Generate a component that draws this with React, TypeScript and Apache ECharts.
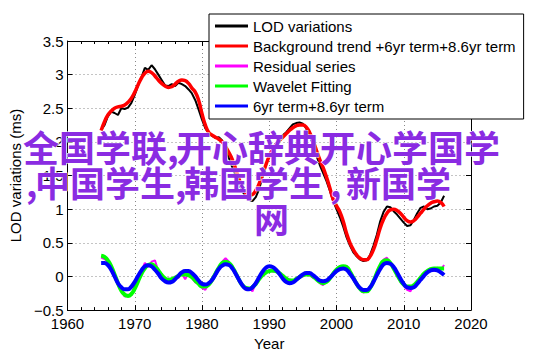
import React, { useEffect, useRef } from "react";
import * as echarts from "echarts";

// Sampling grid: half-year steps starting at 1965
const YEAR_START = 1965;
const YEAR_STEP = 0.5;

const X_MIN = 1960;
const X_MAX = 2020;
const Y_MIN = -0.5;
const Y_MAX = 3.5;

const SERIES_NAMES = [
  "LOD variations",
  "Background trend +6yr term+8.6yr term",
  "Residual series",
  "Wavelet Fitting",
  "6yr term+8.6yr term",
];

// LOD variations (ms), 1965 .. 2016 every half year
const LOD = [
  2.18, 2.25, 2.38, 2.45, 2.43, 2.40, 2.50, 2.49, 2.51, 2.58,
  2.70, 2.84, 2.96, 3.10, 3.07, 3.14, 3.08, 3.00, 2.92, 2.84,
  2.83, 2.86, 2.83, 2.88, 2.86, 2.83, 2.78, 2.72, 2.62, 2.48,
  2.33, 2.20, 2.13, 2.09, 2.06, 2.07, 2.02, 1.90, 1.76, 1.62,
  1.50, 1.38, 1.27, 1.18, 1.14, 1.12, 1.18, 1.30, 1.48, 1.66,
  1.80, 1.90, 1.98, 2.03, 2.10, 2.14, 2.20, 2.26, 2.28, 2.29,
  2.27, 2.20, 2.10, 1.96, 1.80, 1.66, 1.54, 1.42, 1.28, 1.12,
  1.00, 0.88, 0.74, 0.58, 0.46, 0.36, 0.30, 0.25, 0.23, 0.24,
  0.32, 0.46, 0.62, 0.82, 0.96, 1.04, 1.03, 0.97, 0.92, 0.86,
  0.80, 0.75, 0.76, 0.84, 0.94, 1.02, 1.04, 1.00, 1.01, 1.04,
  1.05, 1.10, 1.20,
];

// Background trend + 6yr term + 8.6yr term
const TREND = [
  2.17, 2.30, 2.40, 2.46, 2.50, 2.52, 2.53, 2.55, 2.59, 2.65,
  2.74, 2.85, 2.95, 3.02, 3.05, 3.03, 2.98, 2.92, 2.87, 2.83,
  2.81, 2.82, 2.86, 2.90, 2.92, 2.91, 2.87, 2.80, 2.74, 2.62,
  2.42, 2.25, 2.14, 2.10, 2.07, 2.04, 2.00, 1.93, 1.84, 1.74,
  1.60, 1.45, 1.32, 1.24, 1.21, 1.22, 1.28, 1.38, 1.52, 1.66,
  1.79, 1.89, 1.96, 2.02, 2.07, 2.12, 2.17, 2.21, 2.24, 2.25,
  2.25, 2.22, 2.14, 2.02, 1.88, 1.74, 1.62, 1.48, 1.32, 1.15,
  1.05, 0.96, 0.82, 0.64, 0.50, 0.40, 0.32, 0.27, 0.25, 0.25,
  0.30, 0.40, 0.55, 0.72, 0.85, 0.94, 0.99, 1.00, 0.98, 0.94,
  0.88, 0.83, 0.81, 0.83, 0.88, 0.94, 1.00, 1.05, 1.09, 1.11,
  1.12, 1.10, 1.04,
];

// Residual series
const RESIDUAL = [
  0.28, 0.26, 0.22, 0.12, 0.05, -0.13, -0.20, -0.30, -0.27, -0.28,
  -0.15, -0.08, 0.08, 0.20, 0.14, 0.22, 0.24, 0.08, 0.04, -0.06,
  -0.03, -0.06, 0.00, -0.02, 0.04, -0.04, 0.05, -0.02, -0.09, -0.10,
  -0.17, -0.20, -0.10, -0.07, 0.06, 0.12, 0.22, 0.27, 0.22, 0.12,
  0.06, -0.08, -0.12, -0.20, -0.17, -0.22, -0.10, -0.03, 0.04, 0.05,
  0.10, 0.07, 0.09, 0.03, 0.02, -0.05, -0.04, -0.08, -0.03, 0.01,
  0.00, 0.04, 0.02, -0.02, -0.03, -0.10, -0.13, -0.07, -0.04, 0.06,
  0.09, 0.15, 0.13, 0.16, 0.05, -0.01, -0.13, -0.17, -0.24, -0.21,
  -0.15, -0.09, 0.07, 0.15, 0.25, 0.28, 0.18, 0.14, 0.01, -0.08,
  -0.14, -0.20, -0.22, -0.12, -0.10, 0.00, 0.03, 0.06, 0.10, 0.08,
  0.13, 0.10, 0.17,
];

// Wavelet Fitting
const WAVELET = [
  0.31, 0.29, 0.24, 0.15, 0.03, -0.10, -0.21, -0.27, -0.29, -0.26,
  -0.18, -0.07, 0.04, 0.12, 0.17, 0.18, 0.15, 0.09, 0.02, -0.03,
  -0.05, -0.04, -0.02, 0.01, 0.03, 0.03, 0.02, -0.01, -0.06, -0.11,
  -0.15, -0.15, -0.12, -0.05, 0.04, 0.13, 0.20, 0.22, 0.20, 0.14,
  0.05, -0.05, -0.13, -0.17, -0.18, -0.16, -0.11, -0.04, 0.02, 0.06,
  0.08, 0.09, 0.08, 0.05, 0.01, -0.03, -0.06, -0.06, -0.04, -0.01,
  0.02, 0.03, 0.03, 0.00, -0.04, -0.08, -0.10, -0.08, -0.03, 0.04,
  0.10, 0.14, 0.15, 0.14, 0.07, -0.02, -0.11, -0.18, -0.22, -0.22,
  -0.17, -0.07, 0.05, 0.16, 0.23, 0.24, 0.20, 0.12, 0.03, -0.06,
  -0.12, -0.15, -0.15, -0.13, -0.08, -0.02, 0.04, 0.08, 0.11, 0.12,
  0.12, 0.12, 0.12,
];

// 6yr term + 8.6yr term
const PERIODIC = [
  0.20, 0.20, 0.17, 0.10, 0.00, -0.10, -0.16, -0.19, -0.19, -0.15,
  -0.08, 0.01, 0.09, 0.15, 0.165, 0.15, 0.10, 0.04, -0.03, -0.07,
  -0.09, -0.08, -0.04, 0.01, 0.06, 0.08, 0.08, 0.05, 0.00, -0.06,
  -0.11, -0.12, -0.10, -0.05, 0.03, 0.11, 0.16, 0.18, 0.17, 0.12,
  0.04, -0.05, -0.13, -0.18, -0.19, -0.16, -0.10, -0.01, 0.07, 0.13,
  0.15, 0.14, 0.10, 0.04, -0.03, -0.08, -0.10, -0.09, -0.05, -0.01,
  0.03, 0.05, 0.05, 0.02, -0.02, -0.06, -0.07, -0.06, -0.02, 0.03,
  0.08, 0.11, 0.12, 0.10, 0.04, -0.03, -0.11, -0.17, -0.20, -0.20,
  -0.16, -0.08, 0.02, 0.11, 0.18, 0.20, 0.19, 0.14, 0.06, -0.03,
  -0.11, -0.16, -0.17, -0.16, -0.11, -0.05, 0.01, 0.06, 0.09, 0.10,
  0.09, 0.06, 0.02,
];

const WATERMARK_SEGMENTS = [
  { text: "全国学联,", line: 0, left: 23, size: 36 },
  { text: "开心辞典开心学国学", line: 0, left: 176, size: 36 },
  { text: ",", line: 1, left: 26, size: 35 },
  { text: "中国学生,", line: 1, left: 35, size: 35 },
  { text: "韩国学生", line: 1, left: 184, size: 35 },
  { text: ",", line: 1, left: 330, size: 35 },
  { text: "新国学", line: 1, left: 346, size: 35 },
  { text: "网", line: 2, left: 254, size: 35 },
];
const WATERMARK_LINE_Y = [146, 181.5, 217.5];

const LATIN = "'Liberation Sans', Arial, Helvetica, sans-serif";
const CJK = "'Noto Sans CJK SC', sans-serif";

function pairs(values: number[]) {
  return values.map((v, i) => [YEAR_START + i * YEAR_STEP, v]);
}

export default function App() {
  const ref = useRef<HTMLDivElement>(null);

  useEffect(() => {
    if (!ref.current) return;
    const chart = echarts.init(ref.current, undefined, { renderer: "svg" });

    const axisLine = { show: true, onZero: false, lineStyle: { color: "#000", width: 1 } };
    const tick = { show: true, inside: true, length: 5, lineStyle: { color: "#000", width: 1 } };
    const grid = { show: true, lineStyle: { color: "#888", width: 1, type: [1, 3] as any } };
    const minus = (v: number) => String(v).replace("-", "\u2212");
    const plain = (v: number) => String(v);

    const colors = ["#000000", "#ff0000", "#ff00ff", "#00ff00", "#0000ff"];
    const widths = [2, 3.5, 2, 4, 4];
    const datasets = [LOD, TREND, RESIDUAL, WAVELET, PERIODIC];
    const smooth = [false, true, false, true, true];

    chart.setOption({
      animation: false,
      backgroundColor: "#fff",
      grid: { left: 55, right: 71, top: 41, bottom: 42, containLabel: false },
      xAxis: [
        {
          type: "value", min: X_MIN, max: X_MAX, interval: 10, position: "bottom",
          axisLine, axisTick: tick,
          minorTick: { show: true, splitNumber: 5, length: 3, lineStyle: { color: "#000" } },
          axisLabel: { fontSize: 15, color: "#000", margin: 6, fontFamily: LATIN, formatter: plain },
          splitLine: grid,
          name: "Year", nameLocation: "middle", nameGap: 21,
          nameTextStyle: { fontSize: 15, color: "#000", fontFamily: LATIN },
        },
        {
          type: "value", min: X_MIN, max: X_MAX, interval: 10, position: "top",
          axisLine, axisTick: tick,
          minorTick: { show: true, splitNumber: 5, length: 3, lineStyle: { color: "#000" } },
          axisLabel: { show: false }, splitLine: { show: false },
        },
      ],
      yAxis: [
        {
          type: "value", min: Y_MIN, max: Y_MAX, interval: 0.5, position: "left",
          axisLine, axisTick: tick,
          axisLabel: { fontSize: 15, color: "#000", margin: 4, fontFamily: LATIN, formatter: minus },
          splitLine: grid,
          name: "LOD variations (ms)", nameLocation: "middle", nameGap: 28,
          nameTextStyle: { fontSize: 15, color: "#000", fontFamily: LATIN },
        },
        {
          type: "value", min: Y_MIN, max: Y_MAX, interval: 0.5, position: "right",
          axisLine, axisTick: tick,
          axisLabel: { show: false }, splitLine: { show: false },
        },
      ],
      legend: {
        orient: "vertical", left: 209, top: 14, padding: [2, 8, 3, 6],
        itemGap: 0, itemWidth: 33, itemHeight: 3, icon: "rect",
        backgroundColor: "#fff", borderColor: "#000", borderWidth: 1,
        selectedMode: false, z: 10,
        textStyle: { fontSize: 15, lineHeight: 20, color: "#000", fontFamily: LATIN },
        data: SERIES_NAMES,
      },
      series: datasets.map((d, i) => ({
        name: SERIES_NAMES[i],
        type: "line",
        data: pairs(d),
        showSymbol: false,
        symbol: "none",
        smooth: smooth[i] ? 0.5 : false,
        color: colors[i],
        lineStyle: { color: colors[i], width: widths[i] },
        z: 2 + i,
      })),
      graphic: WATERMARK_SEGMENTS.map((s) => ({
        type: "text",
        x: s.left,
        y: WATERMARK_LINE_Y[s.line],
        z: 100,
        style: {
          text: s.text,
          fill: "#8a2be2",
          stroke: "#fff",
          lineWidth: 1,
          fontSize: s.size,
          fontWeight: "bold",
          fontFamily: CJK,
          align: "left",
          verticalAlign: "middle",
        },
      })),
    });

    return () => chart.dispose();
  }, []);

  return (
    <div
      ref={ref}
      style={{ position: "fixed", left: 0, top: 0, width: 542, height: 356, background: "#fff" }}
    />
  );
}
